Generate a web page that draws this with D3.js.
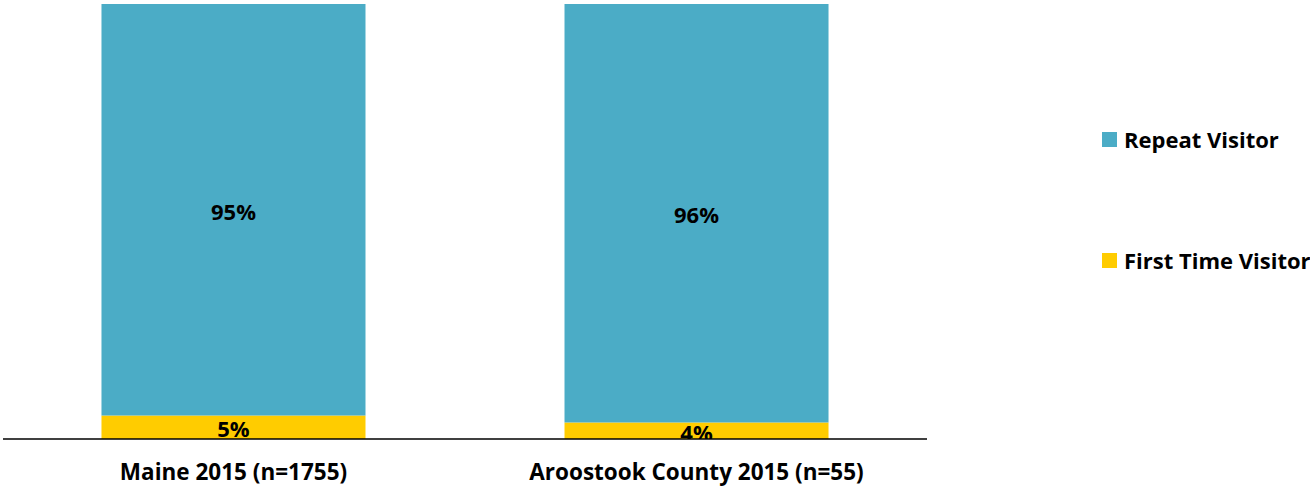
<!DOCTYPE html>
<html><head><meta charset="utf-8">
<script src="https://cdn.jsdelivr.net/npm/d3@7"></script>
<style>body{margin:0;background:#fff}svg{display:block}text{font-family:"Open Sans",sans-serif;font-weight:700;fill:#000}</style>
</head><body>
<svg id="c" width="1310" height="487"></svg>
<script>
const categories = ["Maine 2015 (n=1755)", "Aroostook County 2015 (n=55)"];
const seriesNames = ["First Time Visitor", "Repeat Visitor"];
const firstTime = [5.4, 3.8];
const repeat = [94.6, 96.2];
const colors = {"First Time Visitor": "#FFCC00", "Repeat Visitor": "#4BACC6"};

const svg = d3.select("#c");
const plot = {left: 3, right: 927, top: 4, bottom: 439};
const x = d3.scaleBand().domain(categories).range([plot.left, plot.right]).paddingInner(0.4298).paddingOuter(0.2127);
const y = d3.scaleLinear().domain([0, 100]).range([plot.bottom, plot.top]);

const rows = categories.map((c, i) => ({cat: c, "First Time Visitor": firstTime[i], "Repeat Visitor": repeat[i]}));
const stack = d3.stack().keys(seriesNames)(rows);

svg.append("defs").append("clipPath").attr("id", "pc").append("rect")
  .attr("x", plot.left).attr("y", 0).attr("width", plot.right - plot.left).attr("height", plot.bottom);

const g = svg.append("g");
stack.forEach(s => {
  g.selectAll(null).data(s).join("rect")
    .attr("x", d => x(d.data.cat)).attr("width", x.bandwidth())
    .attr("y", d => y(d[1])).attr("height", d => y(d[0]) - y(d[1]))
    .attr("fill", colors[s.key]);
});
const lg = svg.append("g").attr("clip-path", "url(#pc)");
stack.forEach(s => {
  lg.selectAll(null).data(s).join("text")
    .attr("x", d => x(d.data.cat) + x.bandwidth() / 2)
    .attr("y", d => (y(d[0]) + y(d[1])) / 2 + 10)
    .attr("text-anchor", "middle").attr("font-size", 22)
    .text(d => Math.round(d[1] - d[0]) + "%");
});

const xAxis = svg.append("g").attr("transform", `translate(0,${plot.bottom})`)
  .call(d3.axisBottom(x).tickSize(0).tickPadding(25));
xAxis.select(".domain").attr("stroke", "#000").attr("stroke-width", 1.3).attr("d", `M${plot.left},0H${plot.right}`);
xAxis.selectAll("text").attr("font-size", 22.5).attr("font-family", "Open Sans").attr("font-weight", 700).attr("fill", "#000");

const legendItems = ["Repeat Visitor", "First Time Visitor"];
const ly = d3.scalePoint().domain(legendItems).range([132, 253]);
const leg = svg.append("g");
leg.selectAll("rect").data(legendItems).join("rect")
  .attr("x", 1102).attr("y", d => ly(d)).attr("width", 15).attr("height", 15)
  .attr("fill", d => colors[d]);
leg.selectAll("text").data(legendItems).join("text")
  .attr("x", 1124).attr("y", d => ly(d) + 15.5).attr("font-size", 22).text(d => d);
</script>
</body></html>
